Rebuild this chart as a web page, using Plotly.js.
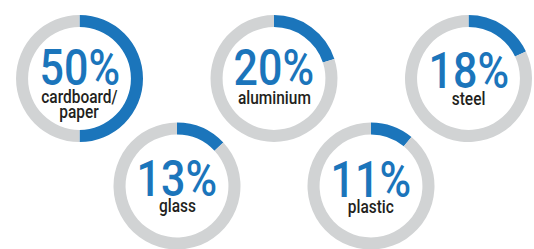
<!DOCTYPE html>
<html>
<head>
<meta charset="utf-8">
<script src="https://cdn.plot.ly/plotly-3.0.1.min.js"></script>
<style>
html,body{margin:0;padding:0;background:#fff;overflow:hidden;width:534px;height:249px;}
#chart{width:534px;height:260px;}
</style>
</head>
<body>
<div id="chart"></div>
<script>
// Data
var materials = ['cardboard/<br>paper', 'aluminium', 'steel', 'glass', 'plastic'];
var shares = [50, 20, 18, 13, 11];
var shareLabels = ['50%', '20%', '18%', '13%', '11%'];

// Layout (pixel positions of each donut and its texts)
var W = 534, H = 260;
var cx = [79.5, 274, 468.5, 177, 371];
var cy = [78.5, 78.5, 78.5, 186, 186];
var R = 63.5;
var numDy = [-10.6, -10.1, -7.6, -7.1, -6.1];
var labDy = [18, 19.3, 20.3, 19.8, 20.8];
var lineGap = 15;
var blue = '#1b75bb', grey = '#d1d3d4', dark = '#231f20';
var font = 'Roboto, Liberation Sans, sans-serif';
var squeeze = 0.86;

var traces = [], annotations = [];
for (var i = 0; i < shares.length; i++) {
  traces.push({
    type: 'pie',
    values: [shares[i], 100 - shares[i]],
    labels: ['share', 'rest'],
    marker: {colors: [blue, grey], line: {width: 0}},
    hole: 0.81,
    sort: false,
    direction: 'clockwise',
    rotation: 0,
    textinfo: 'none',
    hoverinfo: 'none',
    showlegend: false,
    domain: {
      x: [(cx[i] - R) / W, (cx[i] + R) / W],
      y: [1 - (cy[i] + R) / H, 1 - (cy[i] - R) / H]
    }
  });
  annotations.push({
    xref: 'paper', yref: 'paper',
    x: cx[i] / W, y: 1 - (cy[i] + numDy[i]) / H,
    xanchor: 'center', yanchor: 'middle',
    text: shareLabels[i], showarrow: false,
    font: {family: font, size: 50, color: blue, weight: 500}
  });
  var lines = materials[i].split('<br>');
  for (var k = 0; k < lines.length; k++) {
    annotations.push({
      xref: 'paper', yref: 'paper',
      x: cx[i] / W, y: 1 - (cy[i] + labDy[i] + k * lineGap) / H,
      xanchor: 'center', yanchor: 'middle',
      text: lines[k], showarrow: false,
      font: {family: font, size: 18, color: dark, weight: 500}
    });
  }
}

Plotly.newPlot('chart', traces, {
  width: W, height: H,
  margin: {l: 0, r: 0, t: 0, b: 0},
  paper_bgcolor: '#fff',
  annotations: annotations
}, {staticPlot: true}).then(function () {
  var texts = document.querySelectorAll('#chart .annotation-text');
  texts.forEach(function (t) {
    var bb = t.getBBox();
    var c = bb.x + bb.width / 2;
    var prev = t.getAttribute('transform') || '';
    t.setAttribute('transform', prev + ' translate(' + c + ',0) scale(' + squeeze + ',1) translate(' + (-c) + ',0)');
  });
});
</script>
</body>
</html>
